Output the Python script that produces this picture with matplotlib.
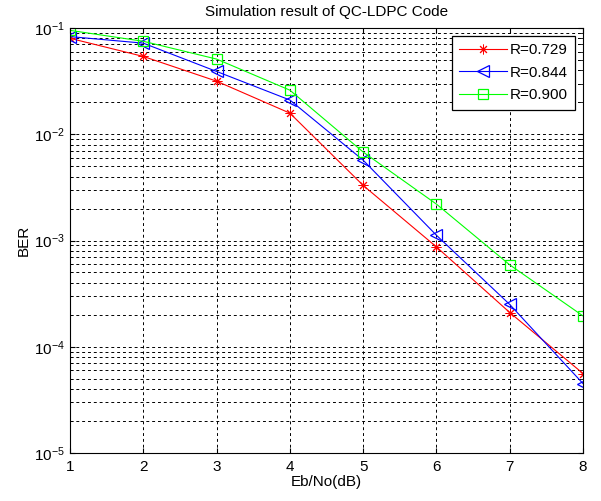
import matplotlib
matplotlib.use("Agg")
import matplotlib.pyplot as plt
from matplotlib.ticker import LogLocator, NullFormatter

plt.rcParams['font.family'] = ['Liberation Sans', 'DejaVu Sans']

ebno = [1, 2, 3, 4, 5, 6, 7, 8]
ber_0729 = [0.080, 0.054, 0.0316, 0.0158, 0.0033, 0.00087, 0.00021, 5.6e-5]
ber_0844 = [0.083, 0.072, 0.039, 0.021, 0.0057, 0.00112, 0.00025, 4.5e-5]
ber_0900 = [0.095, 0.075, 0.051, 0.026, 0.0068, 0.0022, 0.00059, 0.000195]
etiquetas = ['R=0.729', 'R=0.844', 'R=0.900']

fig = plt.figure(figsize=(6.01, 5.01), dpi=100)
ax = fig.add_axes([0.1165, 0.0958, 0.8536, 0.8483])

# asterisco tipo matlab (8 brazos)
ax.semilogy(ebno, ber_0729, '-', marker=(8, 2, 0), color='r', lw=0.8, ms=7, mew=0.7, label=etiquetas[0])
ax.semilogy(ebno, ber_0844, '-<', color='b', lw=0.8, ms=8, mew=0.9, mfc='none', label=etiquetas[1])
ax.semilogy(ebno, ber_0900, '-s', color='#00ff00', lw=0.8, ms=7, mew=0.9, mfc='none', label=etiquetas[2])

ax.set_xlim(1, 8)
ax.set_ylim(1e-5, 1e-1)
ax.set_xticks(ebno)
ax.yaxis.set_major_locator(LogLocator(base=10, numticks=10))
ax.yaxis.set_minor_locator(LogLocator(base=10, subs=range(2, 10), numticks=10))
ax.yaxis.set_minor_formatter(NullFormatter())

ax.grid(True, which='major', ls=(0, (3, 3)), color='k', lw=0.7)
ax.grid(True, which='minor', axis='y', ls=(0, (3, 3)), color='k', lw=0.7)
ax.tick_params(which='both', direction='in', top=True, right=True, labelsize=11)
ax.tick_params(axis='x', pad=5)
ax.tick_params(axis='y', pad=4)
for s in ax.spines.values():
    s.set_linewidth(0.8)

ax.set_title('Simulation result of QC-LDPC Code', fontsize=11, pad=9)
ax.set_xlabel('Eb/No(dB)', fontsize=11, labelpad=1)
ax.set_ylabel('BER', fontsize=11, labelpad=2)

leg = ax.legend(loc='upper right', fontsize=11, fancybox=False, framealpha=1,
                edgecolor='k', borderaxespad=0.5, handlelength=3.1,
                handletextpad=0.2, labelspacing=0.55, borderpad=0.5)
leg.get_frame().set_linewidth(0.9)

fig.savefig('out.png', dpi=100)
